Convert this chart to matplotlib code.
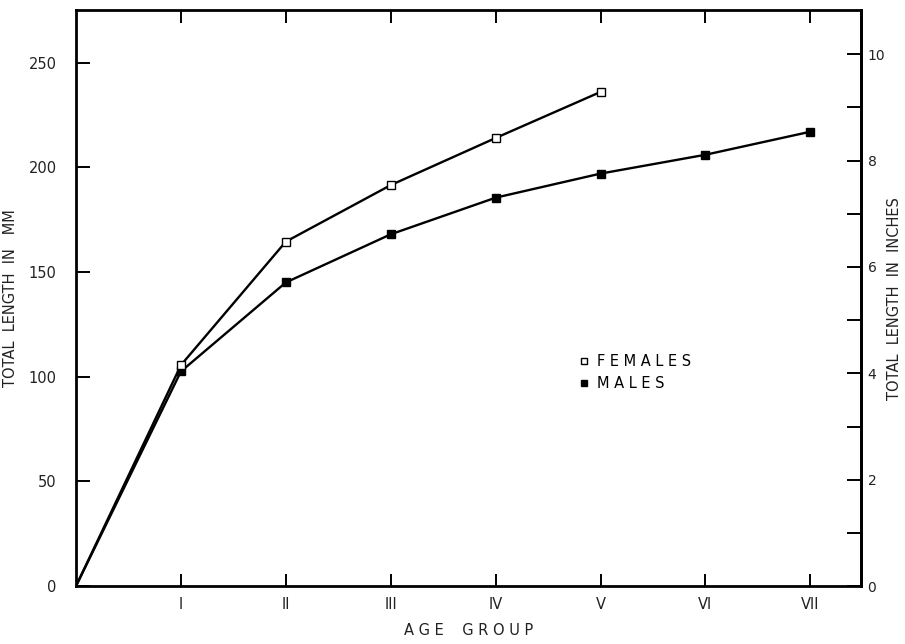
import matplotlib
matplotlib.use("Agg")
import matplotlib.pyplot as plt
from matplotlib.lines import Line2D

# --- data ---
age_groups = [0, 1, 2, 3, 4, 5, 6, 7]
age_labels = ["I", "II", "III", "IV", "V", "VI", "VII"]
females_mm = [0, 105.5, 164.5, 191.5, 214, 236]
males_mm = [0, 102.5, 145, 168, 185.5, 197, 206, 217]

MM_PER_INCH = 25.4

plt.rcParams["font.family"] = ["DejaVu Sans"]

fig = plt.figure(figsize=(9.05, 6.44), dpi=100)
ax = fig.add_axes([0.084, 0.090, 0.867, 0.894])

ax.plot(age_groups[:len(males_mm)], males_mm, color="black", linewidth=1.7,
        marker="s", markersize=5.5, markerfacecolor="black",
        markeredgecolor="black", markevery=list(range(1, len(males_mm))))
ax.plot(age_groups[:len(females_mm)], females_mm, color="black", linewidth=1.7,
        marker="s", markersize=5.5, markerfacecolor="white",
        markeredgecolor="black", markeredgewidth=1.0,
        markevery=list(range(1, len(females_mm))))

ax.set_xlim(0, 7.48)
ax.set_ylim(0, 275)

ax.set_xticks(age_groups[1:])
ax.set_xticklabels(age_labels, fontsize=10.5, color="#222222")
ax.set_yticks([0, 50, 100, 150, 200, 250])
ax.tick_params(axis="x", direction="in", length=9, width=1.4, top=True, pad=8)
ax.tick_params(axis="y", direction="in", length=10, width=1.4, labelsize=10.5,
               pad=14, labelcolor="#222222")
for s in ax.spines.values():
    s.set_linewidth(2)

ax.set_xlabel("A G E    G R O U P", fontsize=10.5, color="#222222")
ax.xaxis.set_label_coords(0.5, -0.065)
ax.set_ylabel("TOTAL  LENGTH  IN   MM", fontsize=10.5, color="#222222")
ax.yaxis.set_label_coords(-0.074, 0.5)

sec = ax.secondary_yaxis("right", functions=(lambda mm: mm / MM_PER_INCH,
                                             lambda inch: inch * MM_PER_INCH))
sec.set_yticks([0, 2, 4, 6, 8, 10])
sec.set_yticks([1, 3, 5, 7, 9], minor=True)
sec.tick_params(which="both", direction="in", length=10, width=1.4,
                labelsize=10, pad=5, labelcolor="#222222")
sec.spines["right"].set_linewidth(2)
sec.set_ylabel("TOTAL  LENGTH  IN  INCHES", fontsize=10.5, color="#222222",
               labelpad=1)

handles = [
    Line2D([], [], linestyle="none", marker="s", markersize=5,
           markerfacecolor="white", markeredgecolor="black"),
    Line2D([], [], linestyle="none", marker="s", markersize=5,
           markerfacecolor="black", markeredgecolor="black"),
]
ax.legend(handles, ["F E M A L E S", "M A L E S"], loc="upper left",
          bbox_to_anchor=(0.625, 0.425), frameon=False, fontsize=10.5,
          handlelength=0.6, handletextpad=0.6, labelspacing=0.45)

fig.savefig("out.png", dpi=100)
